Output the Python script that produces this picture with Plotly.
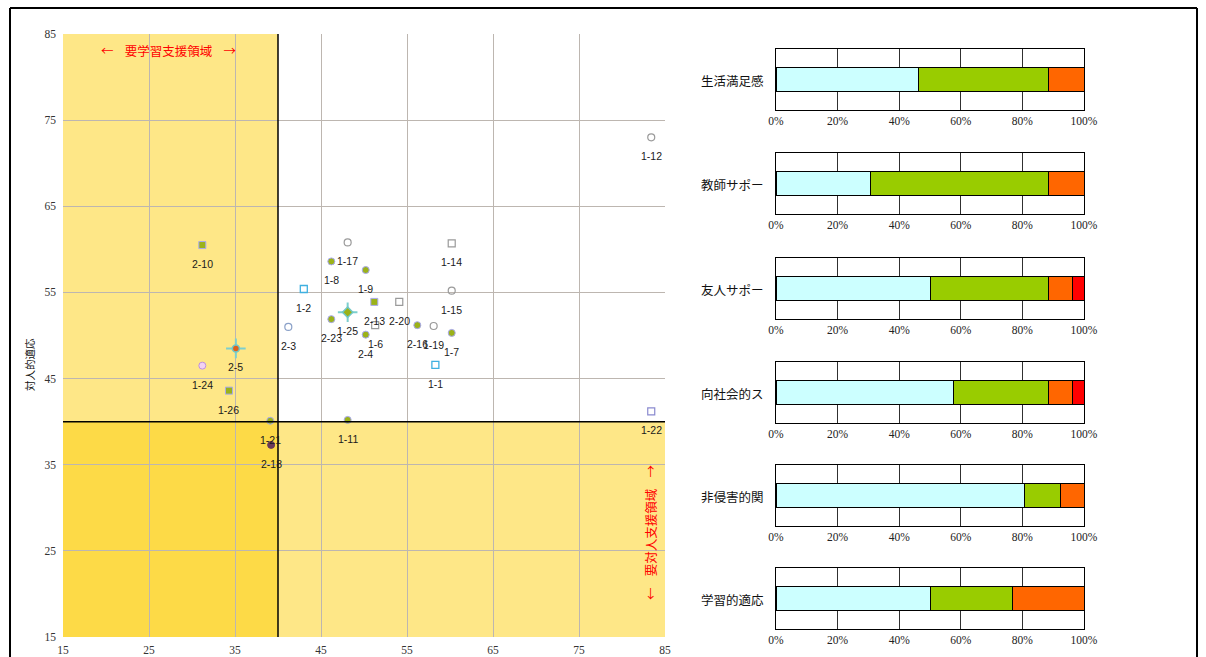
import plotly.graph_objects as go

# ---------------- data ----------------
point_labels = ["1-1", "1-2", "1-6", "1-7", "1-8", "1-9", "1-11", "1-12", "1-14", "1-15",
                "1-17", "1-19", "1-21", "1-22", "1-24", "1-25", "1-26",
                "2-3", "2-4", "2-5", "2-10", "2-13", "2-16", "2-18", "2-20", "2-23"]
x_scores = [58.3, 43.0, 51.3, 60.2, 46.2, 50.2, 48.1, 83.4, 60.2, 60.2,
            48.1, 58.1, 39.1, 83.4, 31.2, 48.1, 34.3,
            41.2, 50.2, 35.1, 31.2, 51.2, 56.2, 39.2, 54.1, 46.2]
y_scores = [46.6, 55.4, 51.2, 50.3, 58.6, 57.6, 40.2, 73.0, 60.7, 55.2,
            60.8, 51.1, 40.1, 41.2, 46.5, 52.7, 43.6,
            51.0, 50.1, 48.5, 60.5, 53.9, 51.2, 37.3, 53.9, 51.9]

bar_categories = ["生活満足感", "教師サポー", "友人サポー", "向社会的ス", "非侵害的関", "学習的適応"]
pct_cyan = [46.2, 30.8, 50.0, 57.7, 80.8, 50.0]
pct_green = [42.3, 57.7, 38.5, 30.8, 11.5, 26.9]
pct_orange = [11.5, 11.5, 7.7, 7.7, 7.7, 23.1]
pct_red = [0.0, 0.0, 3.8, 3.8, 0.0, 0.0]

x_ticks = [15, 25, 35, 45, 55, 65, 75, 85]
y_ticks = [15, 25, 35, 45, 55, 65, 75, 85]
pct_ticks = [0, 20, 40, 60, 80, 100]

# ---------------- styles ----------------
W, H = 1206, 657
def px_x(p):
    return p / W
def px_y(p):
    return 1 - p / H

marker_style_of = {
    "1-1": "cyan_sq", "1-2": "cyan_sq", "1-6": "gray_sq", "1-7": "olive", "1-8": "olive",
    "1-9": "olive", "1-11": "olive", "1-12": "gray_ci", "1-14": "gray_sq", "1-15": "gray_ci",
    "1-17": "gray_ci", "1-19": "gray_ci", "1-21": "olive", "1-22": "blue_sq", "1-24": "pink",
    "1-25": "olive_x", "1-26": "olive_sq", "2-3": "blue_ci", "2-4": "olive", "2-5": "orange_x",
    "2-10": "olive_sq", "2-13": "olive_sq", "2-16": "olive", "2-18": "dark", "2-20": "gray_sq",
    "2-23": "olive",
}
styles = {
    "olive": dict(symbol="circle", size=7, color="#9BB219", line=dict(color="#A8A8F0", width=1)),
    "olive_sq": dict(symbol="square", size=7, color="#9BB219", line=dict(color="#A8A8F0", width=1)),
    "olive_x": dict(symbol="diamond", size=8, color="#9BB219", line=dict(color="#70C8C8", width=1.5)),
    "orange_x": dict(symbol="circle", size=7, color="#E0601A", line=dict(color="#70C8C8", width=1.5)),
    "gray_ci": dict(symbol="circle-open", size=7, color="#9A9A9A", line=dict(width=1.2)),
    "gray_sq": dict(symbol="square-open", size=7, color="#9A9A9A", line=dict(width=1.2)),
    "cyan_sq": dict(symbol="square-open", size=7, color="#3FB0E0", line=dict(width=1.3)),
    "blue_sq": dict(symbol="square-open", size=7, color="#8A8ACF", line=dict(width=1.2)),
    "blue_ci": dict(symbol="circle-open", size=7, color="#8AA0C8", line=dict(width=1.2)),
    "pink": dict(symbol="circle", size=7, color="#F2D2F2", line=dict(color="#C090E0", width=1)),
    "dark": dict(symbol="circle", size=7, color="#6A3A5A", line=dict(color="#6A3A5A", width=1)),
}

fig = go.Figure()

# scatter: one trace per marker style
for sname, mk in styles.items():
    idx = [i for i, lab in enumerate(point_labels) if marker_style_of[lab] == sname]
    if not idx:
        continue
    if sname in ("olive_x", "orange_x"):
        fig.add_trace(go.Scatter(
            x=[x_scores[i] for i in idx], y=[y_scores[i] for i in idx],
            mode="markers", xaxis="x", yaxis="y", showlegend=False, hoverinfo="skip",
            marker=dict(symbol="cross-thin", size=14, line=dict(color="#7CCFCF", width=2))))
    fig.add_trace(go.Scatter(
        x=[x_scores[i] for i in idx], y=[y_scores[i] for i in idx],
        text=[point_labels[i] for i in idx], mode="markers", xaxis="x", yaxis="y",
        showlegend=False, marker=mk))

annotations = []
for lab, xv, yv in zip(point_labels, x_scores, y_scores):
    annotations.append(dict(x=xv, y=yv, xref="x", yref="y", text=lab, showarrow=False,
                            xanchor="center", yanchor="middle", yshift=-19,
                            font=dict(family="Liberation Sans", size=10.5, color="#1a1a1a")))

# bar charts
seg_colors = ["#CCFFFF", "#99CC00", "#FF6600", "#FF0000"]
segments = [pct_cyan, pct_green, pct_orange, pct_red]
box_tops = [49, 153, 258, 362, 465, 568]
box_h = 61
layout_axes = {}
for k, cat in enumerate(bar_categories):
    n = k + 2
    xa, ya = f"x{n}", f"y{n}"
    for seg, col in zip(segments, seg_colors):
        fig.add_trace(go.Bar(
            x=[seg[k]], y=[cat], orientation="h", xaxis=xa, yaxis=ya,
            marker=dict(color=col, line=dict(color="#000000", width=1)),
            showlegend=False, width=0.4))
    layout_axes[f"xaxis{n}"] = dict(
        domain=[px_x(776), px_x(1084)], anchor=ya, range=[0, 100], tickvals=pct_ticks,
        ticktext=[f"{t}%" for t in pct_ticks], showgrid=True, gridcolor="#303030", gridwidth=1,
        showline=True, linecolor="#000000", linewidth=1, mirror=True, zeroline=False,
        automargin=False,
        tickfont=dict(family="Liberation Serif", size=11.5, color="#222"), ticks="", fixedrange=True)
    layout_axes[f"yaxis{n}"] = dict(
        domain=[px_y(box_tops[k] + box_h), px_y(box_tops[k])], anchor=xa, automargin=False,
        showticklabels=False, showline=True, linecolor="#000000", linewidth=1, mirror=True,
        showgrid=False, range=[-0.5, 0.5], fixedrange=True)
    annotations.append(dict(x=px_x(766), y=px_y(box_tops[k] + box_h / 2 + 1), xref="paper", yref="paper",
                            text=cat, showarrow=False, xanchor="right", yanchor="middle",
                            font=dict(family="Noto Sans CJK JP", size=12.5, color="#111")))

# region texts
annotations.append(dict(x=px_x(168), y=px_y(50), xref="paper", yref="paper",
                        text="←    要学習支援領域    →", showarrow=False,
                        xanchor="center", yanchor="middle",
                        font=dict(family="Noto Sans CJK JP", size=12.5, color="#FF0000")))
annotations.append(dict(x=px_x(650), y=px_y(533), xref="paper", yref="paper",
                        text="←    要対人支援領域    →", showarrow=False, textangle=-90,
                        xanchor="center", yanchor="middle",
                        font=dict(family="Noto Sans CJK JP", size=12.5, color="#FF0000")))
annotations.append(dict(x=px_x(29), y=px_y(365), xref="paper", yref="paper",
                        text="対人的適応", showarrow=False, textangle=-90,
                        xanchor="center", yanchor="middle",
                        font=dict(family="Noto Sans CJK JP", size=10.5, color="#111")))

shapes = [
    # support regions
    dict(type="rect", xref="x", yref="y", x0=15, x1=40, y0=15, y1=85, layer="below",
         fillcolor="rgba(253,205,0,0.47)", line=dict(width=0)),
    dict(type="rect", xref="x", yref="y", x0=15, x1=85, y0=15, y1=40, layer="below",
         fillcolor="rgba(253,205,0,0.47)", line=dict(width=0)),
    # threshold lines
    dict(type="line", xref="x", yref="y", x0=40, x1=40, y0=15, y1=85,
         line=dict(color="#000000", width=1.5)),
    dict(type="line", xref="x", yref="y", x0=15, x1=85, y0=40, y1=40,
         line=dict(color="#000000", width=1.5)),
    # outer frame
    dict(type="line", xref="paper", yref="paper", x0=px_x(10), x1=px_x(1197), y0=px_y(8), y1=px_y(8),
         line=dict(color="#000000", width=2)),
    dict(type="line", xref="paper", yref="paper", x0=px_x(10), x1=px_x(10), y0=px_y(8), y1=0,
         line=dict(color="#000000", width=2)),
    dict(type="line", xref="paper", yref="paper", x0=px_x(1197), x1=px_x(1197), y0=px_y(8), y1=0,
         line=dict(color="#000000", width=2)),
]

fig.update_layout(
    width=W, height=H, margin=dict(l=0, r=0, t=0, b=0, autoexpand=False),
    paper_bgcolor="#FFFFFF", plot_bgcolor="#FFFFFF",
    barmode="stack", showlegend=False,
    xaxis=dict(domain=[px_x(63), px_x(665)], anchor="y", range=[15, 85], tickvals=x_ticks,
               showgrid=True, gridcolor="#BDB6B0", gridwidth=1, zeroline=False,
               showline=False, ticks="", automargin=False, ticklabelstandoff=4,
               tickfont=dict(family="Liberation Serif", size=11.5, color="#333")),
    yaxis=dict(domain=[px_y(637), px_y(34)], anchor="x", range=[15, 85], tickvals=y_ticks,
               showgrid=True, gridcolor="#BDB6B0", gridwidth=1, zeroline=False,
               showline=False, ticks="", automargin=False, ticklabelstandoff=6,
               tickfont=dict(family="Liberation Serif", size=11.5, color="#333")),
    annotations=annotations, shapes=shapes,
    **layout_axes,
)

fig.write_html("out.html", config={"displayModeBar": False},
               post_script="document.body.style.margin='0';document.body.style.overflow='hidden';")
